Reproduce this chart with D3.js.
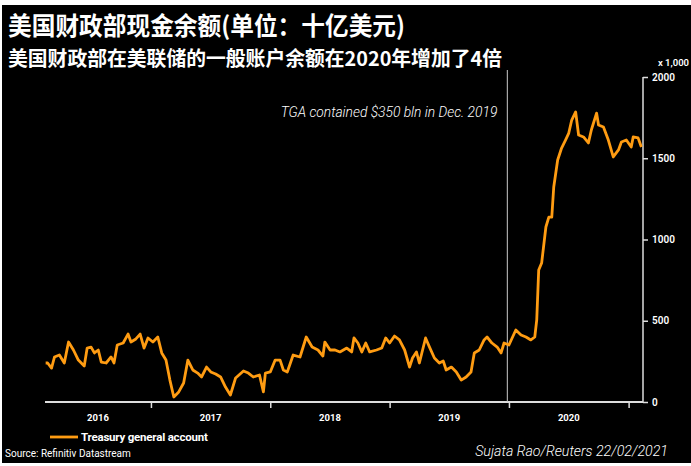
<!DOCTYPE html>
<html><head><meta charset="utf-8">
<script src="https://cdn.jsdelivr.net/npm/d3@7/dist/d3.min.js"></script>
<style>
html,body{margin:0;padding:0;background:#fff;}
svg{display:block;}
</style>
</head><body>
<svg id="c" width="691" height="466"></svg>
<script>
const titleText = "美国财政部现金余额(单位：十亿美元)";
const subtitleText = "美国财政部在美联储的一般账户余额在2020年增加了4倍";
const seriesName = "Treasury general account";
const annotationText = "TGA contained $350 bln in Dec. 2019";
const annotationDate = "2019-12-27";
const sourceText = "Source: Refinitiv Datastream";
const creditText = "Sujata Rao/Reuters 22/02/2021";
const unitText = "x 1,000";
const yTicks = [0, 500, 1000, 1500, 2000];
const yearLabels = ["2016", "2017", "2018", "2019", "2020"];

const dates = [
"2016-02-14","2016-02-20","2016-03-03","2016-03-12","2016-03-27","2016-04-11","2016-04-24","2016-05-09","2016-05-24","2016-06-11",
"2016-06-20","2016-07-02","2016-07-12","2016-07-24","2016-08-02","2016-08-17","2016-09-01","2016-09-10","2016-09-20","2016-10-08",
"2016-10-23","2016-11-01","2016-11-16","2016-11-29","2016-12-11","2016-12-23","2017-01-07","2017-01-22","2017-02-03","2017-02-16",
"2017-02-28","2017-03-12","2017-03-27","2017-04-11","2017-04-24","2017-05-09","2017-05-24","2017-06-05","2017-06-20","2017-07-03",
"2017-07-18","2017-08-02","2017-08-17","2017-09-01","2017-09-17","2017-10-11","2017-10-26","2017-11-10","2017-11-29","2017-12-11",
"2017-12-17","2018-01-01","2018-01-16","2018-01-31","2018-02-10","2018-02-22","2018-03-12","2018-04-02","2018-04-21","2018-05-09",
"2018-05-27","2018-06-11","2018-06-17","2018-07-03","2018-07-18","2018-08-02","2018-08-23","2018-09-07","2018-09-14","2018-09-26",
"2018-10-08","2018-10-20","2018-11-01","2018-11-22","2018-12-08","2018-12-20","2019-01-01","2019-01-16","2019-01-31","2019-02-16",
"2019-03-03","2019-03-12","2019-03-24","2019-04-02","2019-04-21","2019-05-03","2019-05-18","2019-06-02","2019-06-14","2019-06-23",
"2019-07-09","2019-07-24","2019-08-08","2019-08-23","2019-09-07","2019-09-17","2019-10-02","2019-10-17","2019-10-26","2019-11-10",
"2019-11-26","2019-12-08","2019-12-17","2020-01-01","2020-01-22","2020-02-07","2020-02-22","2020-03-08","2020-03-20","2020-03-26",
"2020-04-01","2020-04-10","2020-04-23","2020-05-02","2020-05-11","2020-05-17","2020-05-29","2020-06-10","2020-06-22","2020-07-02",
"2020-07-11","2020-07-23","2020-08-01","2020-08-16","2020-08-31","2020-09-09","2020-09-25","2020-10-01","2020-10-16","2020-10-31",
"2020-11-15","2020-12-01","2020-12-10","2020-12-25","2021-01-09","2021-01-15","2021-01-30","2021-02-09"];

const values = [
240,240,209,277,289,240,369,320,258,222,
332,338,302,320,246,240,277,240,351,363,
418,369,388,418,332,394,369,400,302,258,
135,31,62,117,258,197,178,154,215,185,
172,154,92,43,148,191,178,154,166,62,
178,185,258,258,197,185,289,277,400,338,
320,283,369,320,320,308,332,308,394,363,
308,363,308,320,332,394,363,406,382,320,
215,271,308,240,394,338,271,240,252,197,
215,185,135,154,185,302,320,382,400,363,
338,302,363,351,443,412,400,382,400,505,
812,855,1077,1138,1138,1323,1489,1563,1612,1655,
1735,1785,1643,1631,1594,1674,1778,1705,1692,1612,
1508,1551,1600,1612,1569,1631,1625,1569];

const parse = d3.timeParse("%Y-%m-%d");
const data = dates.map((d, i) => ({date: parse(d), value: values[i]}));

const svg = d3.select("#c");
svg.append("rect").attr("x", 2).attr("y", 5).attr("width", 689).attr("height", 458).attr("fill", "#000");

const cjk = "'Noto Sans CJK SC','Noto Sans',sans-serif";
const latin = "Roboto,'Open Sans',sans-serif";

svg.append("text").attr("x", 8).attr("y", 35).text(titleText)
  .attr("fill", "#fff").attr("font-family", cjk).attr("font-weight", "bold").attr("font-size", 25)
  .attr("textLength", 397).attr("lengthAdjust", "spacingAndGlyphs");
svg.append("text").attr("x", 8).attr("y", 66).text(subtitleText)
  .attr("fill", "#fff").attr("font-family", cjk).attr("font-weight", "bold").attr("font-size", 20)
  .attr("textLength", 494).attr("lengthAdjust", "spacingAndGlyphs");

const x0 = 45, x1 = 643, yTop = 77, yBot = 402;
const x = d3.scaleTime().domain([parse("2016-02-12"), parse("2021-02-14")]).range([x0, x1]);
const y = d3.scaleLinear().domain([0, 2000]).range([yBot, yTop]);

// right axis
const yAxis = d3.axisRight(y).tickValues(yTicks).tickSize(5).tickPadding(4).tickFormat(d3.format("d"));
const gy = svg.append("g").attr("transform", `translate(${x1},0)`).call(yAxis);
gy.select(".domain").attr("stroke", "#ddd").attr("stroke-width", 1.5).attr("d", `M0,${yTop}V${yBot}`);
gy.selectAll(".tick line").attr("stroke", "#ddd").attr("stroke-width", 1.5);
gy.selectAll(".tick text").attr("fill", "#fff").attr("font-family", latin).attr("font-weight", 600).attr("font-size", 10);

svg.append("text").attr("x", 689).attr("y", 66).attr("text-anchor", "end").text(unitText)
  .attr("fill", "#fff").attr("font-family", latin).attr("font-weight", 600).attr("font-size", 9.5);

// bottom axis
const yearTicks = [2017, 2018, 2019, 2020, 2021].map(yr => new Date(yr, 0, 1));
const xAxis = d3.axisBottom(x).tickValues(yearTicks).tickSize(6).tickFormat("");
const gx = svg.append("g").attr("transform", `translate(0,${yBot})`).call(xAxis);
gx.select(".domain").attr("stroke", "#ddd").attr("stroke-width", 2).attr("d", `M${x0},0H${x1}`);
gx.selectAll(".tick line").attr("stroke", "#ddd").attr("stroke-width", 1.5);

const [dStart, dEnd] = x.domain();
yearLabels.forEach(yl => {
  const yr = +yl;
  const a = new Date(Math.max(+dStart, +new Date(yr, 0, 1)));
  const b = new Date(Math.min(+dEnd, +new Date(yr + 1, 0, 1)));
  svg.append("text").attr("x", (x(a) + x(b)) / 2).attr("y", 421).attr("text-anchor", "middle").text(yl)
    .attr("fill", "#fff").attr("font-family", latin).attr("font-weight", "bold").attr("font-size", 9.5);
});

// annotation line
const ax = x(parse(annotationDate));
svg.append("line").attr("x1", ax).attr("x2", ax).attr("y1", 70).attr("y2", yBot)
  .attr("stroke", "#ccc").attr("stroke-width", 1);
svg.append("text").attr("x", ax - 10).attr("y", 117).attr("text-anchor", "end").text(annotationText)
  .attr("fill", "#fff").attr("font-family", latin).attr("font-style", "italic").attr("font-weight", 300).attr("font-size", 13.8);

// series line
const line = d3.line().x(d => x(d.date)).y(d => y(d.value)).curve(d3.curveLinear);
svg.append("path").datum(data).attr("d", line).attr("fill", "none")
  .attr("stroke", "#ff9c12").attr("stroke-width", 2.8).attr("stroke-linejoin", "round");

// legend
svg.append("line").attr("x1", 50).attr("x2", 78).attr("y1", 437).attr("y2", 437)
  .attr("stroke", "#ff9c12").attr("stroke-width", 2.8);
svg.append("text").attr("x", 81).attr("y", 441).text(seriesName)
  .attr("fill", "#fff").attr("font-family", latin).attr("font-weight", "bold").attr("font-size", 11.5).attr("letter-spacing", -0.2);

svg.append("text").attr("x", 5).attr("y", 457).text(sourceText)
  .attr("fill", "#fff").attr("font-family", "'Liberation Sans Narrow',Roboto,sans-serif").attr("font-size", 10);
svg.append("text").attr("x", 668).attr("y", 456).attr("text-anchor", "end").text(creditText)
  .attr("fill", "#fff").attr("font-family", latin).attr("font-style", "italic").attr("font-weight", 300).attr("font-size", 14.2);
</script>
</body></html>
